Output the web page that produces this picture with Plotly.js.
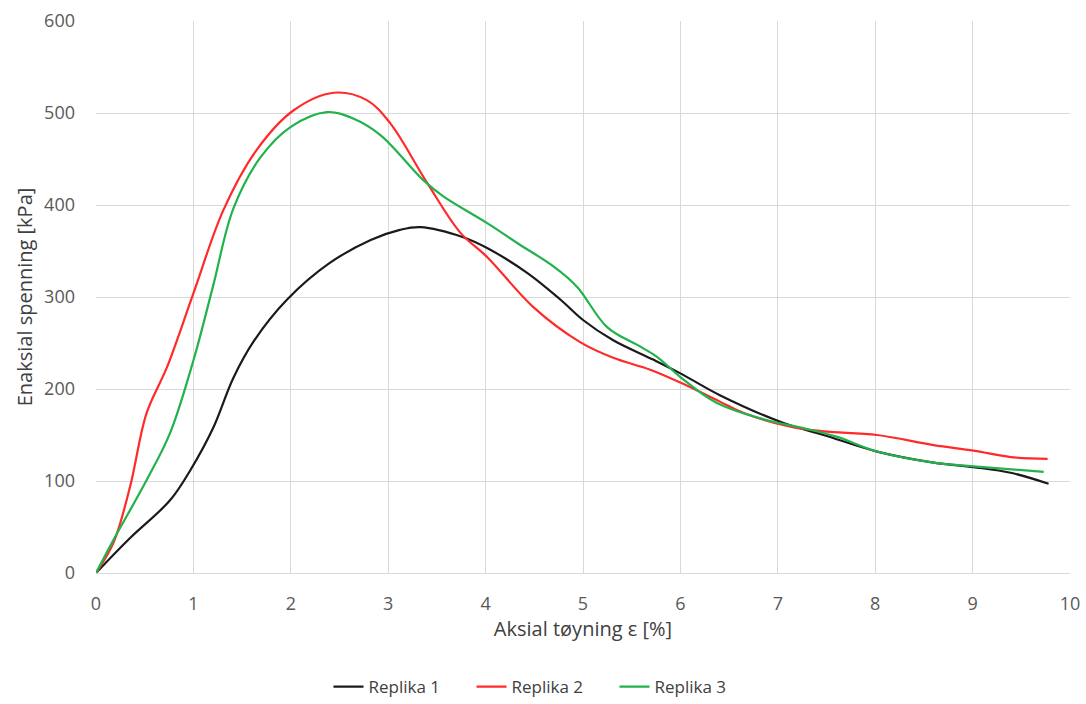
<!DOCTYPE html>
<html>
<head>
<meta charset="utf-8">
<script src="https://cdn.plot.ly/plotly-3.0.1.min.js"></script>
<style>html,body{margin:0;padding:0;background:#fff;}#chart{width:1086px;height:704px;}</style>
</head>
<body>
<div id="chart"></div>
<script>
const seriesNames = ["Replika 1", "Replika 2", "Replika 3"];
const seriesColors = ["#1a1a1a", "#ff2a2a", "#22b24c"];

const x1 = [0, 0.35, 0.76, 0.97, 1.2, 1.41, 1.62, 1.96, 2.4, 2.82, 3.12, 3.33, 3.77, 4.02, 4.43, 4.77, 5.0, 5.31, 5.72, 6.0, 6.41, 7.06, 7.47, 8.02, 8.6, 9.01, 9.39, 9.78];
const y1 = [0, 38, 79, 112, 157, 212, 252, 297, 337, 362, 373, 376, 365, 353, 326, 297, 275, 253, 232, 217, 193, 163, 150, 132, 120, 115, 109, 97];

const x2 = [0, 0.18, 0.35, 0.52, 0.73, 1.0, 1.31, 1.65, 2.03, 2.44, 2.78, 3.02, 3.4, 3.74, 4.02, 4.49, 4.97, 5.31, 5.69, 6.0, 6.41, 6.65, 7.13, 7.47, 8.02, 8.6, 9.01, 9.39, 9.77];
const y2 = [0, 33, 94, 174, 224, 304, 395, 460, 503, 522, 514, 489, 424, 370, 343, 289, 251, 234, 221, 207, 186, 174, 159, 154, 150, 139, 133, 126, 124];

const x3 = [0, 0.18, 0.52, 0.76, 1.0, 1.2, 1.41, 1.69, 2.0, 2.37, 2.64, 2.92, 3.36, 3.57, 4.02, 4.32, 4.7, 4.94, 5.25, 5.59, 5.76, 6.0, 6.37, 6.89, 7.24, 7.61, 8.02, 8.6, 9.01, 9.73];
const y3 = [0, 36, 101, 152, 231, 311, 396, 452, 485, 501, 494, 476, 427, 409, 380, 359, 333, 311, 267, 246, 235, 213, 185, 166, 158, 148, 132, 120, 116, 110];

const xTicks = [0,1,2,3,4,5,6,7,8,9,10];
const yTicks = [0,100,200,300,400,500,600];

const xs = [x1, x2, x3];
const ys = [y1, y2, y3];
const traces = seriesNames.map((n, i) => ({
  x: xs[i], y: ys[i], name: n, type: "scatter", mode: "lines",
  line: {color: seriesColors[i], width: 2.2, shape: "spline", smoothing: 1}
}));

const font = "Open Sans, Liberation Sans, sans-serif";
const layout = {
  width: 1086, height: 704,
  margin: {l: 96, r: 16, t: 21, b: 131, autoexpand: false},
  paper_bgcolor: "#fff", plot_bgcolor: "#fff",
  font: {family: font, color: "#595959", size: 14},
  showlegend: true,
  legend: {orientation: "h", x: 0.5, xanchor: "center", xref: "container",
           y: 0.024, yanchor: "middle", yref: "container",
           font: {family: font, size: 17, color: "#404040"}, itemwidth: 30,
           entrywidth: 98},
  xaxis: {
    range: [0, 10], tickvals: xTicks, ticktext: xTicks.map(String),
    showgrid: true, gridcolor: "#d9d9d9", gridwidth: 1,
    zeroline: false, showline: true, linecolor: "#d9d9d9", linewidth: 1,
    ticks: "", ticklen: 0, ticklabelstandoff: 14,
    tickfont: {family: font, size: 18, color: "#595959"},
    title: {text: "Aksial tøyning ε [%]", font: {family: font, size: 20, color: "#404040"}, standoff: 4}
  },
  yaxis: {
    range: [0, 600], tickvals: yTicks, ticktext: yTicks.map(String),
    showgrid: true, gridcolor: "#d9d9d9", gridwidth: 1,
    zeroline: false, showline: false,
    ticks: "", ticklen: 0, ticklabelstandoff: 20,
    tickfont: {family: font, size: 18, color: "#595959"},
    title: {text: "Enaksial spenning [kPa]", font: {family: font, size: 20, color: "#404040"}, standoff: 6}
  }
};

Plotly.newPlot("chart", traces, layout, {displayModeBar: false, staticPlot: true});
</script>
</body>
</html>
